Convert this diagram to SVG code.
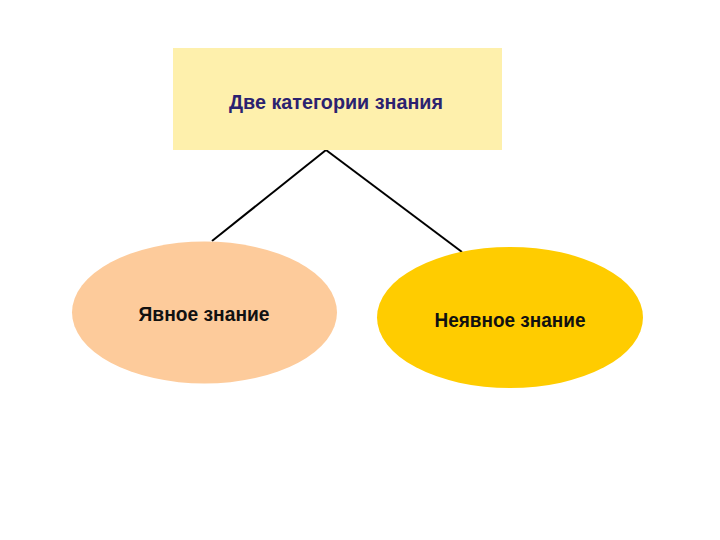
<svg xmlns="http://www.w3.org/2000/svg" width="720" height="540" viewBox="0 0 720 540">
<style>
.t{font-family:"Liberation Sans",Arial,sans-serif;font-weight:bold;font-size:21px;text-anchor:middle;dominant-baseline:central}
.c{stroke:#000;stroke-width:2;fill:none}
</style>
<rect width="720" height="540" fill="#fff"/>
<g id="connectors">
<line class="c" x1="326" y1="150" x2="212" y2="241"/>
<line class="c" x1="326" y1="150" x2="462" y2="252"/>
</g>
<g id="root">
<rect x="173" y="48" width="329" height="102" fill="#FEF0AC"/>
<text class="t" x="336" y="101" fill="#2B2270" textLength="214" lengthAdjust="spacingAndGlyphs">Две  категории  знания</text>
</g>
<g id="explicit">
<ellipse cx="204.5" cy="312.5" rx="132.5" ry="71" fill="#FDCB9B"/>
<text class="t" x="204" y="313" fill="#111" textLength="131" lengthAdjust="spacingAndGlyphs">Явное знание</text>
</g>
<g id="tacit">
<ellipse cx="510" cy="317.5" rx="133" ry="70.5" fill="#FFCC00"/>
<text class="t" x="510" y="319" fill="#111" textLength="151" lengthAdjust="spacingAndGlyphs">Неявное знание</text>
</g>
</svg>
